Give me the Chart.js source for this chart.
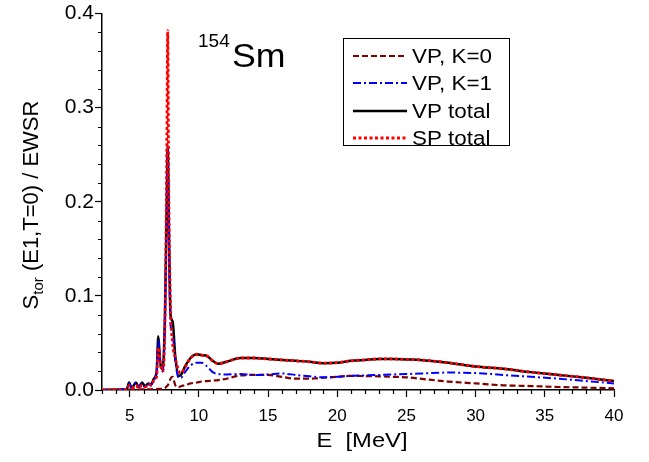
<!DOCTYPE html>
<html>
<head>
<meta charset="utf-8">
<script src="https://cdn.jsdelivr.net/npm/chart.js@4.4.1/dist/chart.umd.min.js"></script>
<style>
  body { margin: 0; background: #fff; }
  #wrap { width: 649px; height: 462px; }
</style>
</head>
<body>
<div id="wrap"><canvas id="torChart" width="649" height="462"></canvas></div>
<script>
// E grid [MeV], shared by all curves (denser around the 7.7 MeV peak)
const energy = [3.0, 4.5, 4.8, 4.95, 5.15, 5.45, 5.65, 5.9, 6.1, 6.35, 6.55, 6.75, 6.95, 7.07, 7.2, 7.38, 7.55, 7.68, 7.75, 7.82, 7.95, 8.1, 8.3, 8.55, 8.7, 9.0, 9.4, 9.85, 10.2, 10.6, 11.0, 11.4, 12.0, 13.0, 14.0, 15.0, 16.0, 17.0, 18.0, 19.0, 20.0, 21.0, 22.0, 23.0, 24.0, 25.0, 26.0, 28.0, 30.0, 32.0, 34.0, 36.0, 38.0, 40.0];

const vpK0 = [0, 0.0002, 0.0003, 0.0005, 0.0004, 0.0006, 0.0005, 0.0007, 0.0006, 0.0008, 0.0008, 0.001, 0.001, 0.0012, 0.0012, 0.0013, 0.002, 0.004, 0.005, 0.007, 0.012, 0.014, 0.005, 0.003, 0.004, 0.005, 0.007, 0.008, 0.009, 0.0095, 0.01, 0.0105, 0.012, 0.0155, 0.016, 0.016, 0.014, 0.012, 0.012, 0.013, 0.014, 0.015, 0.0148, 0.0145, 0.014, 0.0135, 0.012, 0.009, 0.007, 0.005, 0.0042, 0.0032, 0.0025, 0.0018];
const vpK1 = [0, 0.0005, 0.001, 0.008, 0.002, 0.008, 0.003, 0.007, 0.003, 0.006, 0.005, 0.011, 0.018, 0.052, 0.028, 0.02, 0.075, 0.2, 0.258, 0.18, 0.07, 0.06, 0.03, 0.013, 0.013, 0.019, 0.026, 0.029, 0.029, 0.025, 0.019, 0.017, 0.0165, 0.017, 0.016, 0.0165, 0.0175, 0.016, 0.0145, 0.0135, 0.014, 0.015, 0.0155, 0.016, 0.0165, 0.017, 0.0175, 0.0185, 0.018, 0.016, 0.014, 0.012, 0.0095, 0.007];
const vpTotal = [0, 0.0005, 0.001, 0.008, 0.002, 0.008, 0.003, 0.008, 0.004, 0.007, 0.006, 0.012, 0.02, 0.057, 0.03, 0.022, 0.08, 0.2, 0.26, 0.19, 0.08, 0.073, 0.035, 0.015, 0.016, 0.025, 0.034, 0.038, 0.037, 0.036, 0.031, 0.028, 0.03, 0.034, 0.034, 0.033, 0.032, 0.031, 0.03, 0.0285, 0.029, 0.031, 0.032, 0.033, 0.033, 0.0325, 0.032, 0.029, 0.025, 0.0225, 0.019, 0.016, 0.013, 0.0095];
const spTotal = [0, 0.0003, 0.0008, 0.005, 0.002, 0.005, 0.002, 0.005, 0.003, 0.006, 0.005, 0.01, 0.015, 0.045, 0.03, 0.02, 0.07, 0.25, 0.382, 0.22, 0.09, 0.05, 0.034, 0.02, 0.018, 0.024, 0.034, 0.038, 0.037, 0.036, 0.031, 0.028, 0.03, 0.034, 0.034, 0.033, 0.032, 0.031, 0.03, 0.0285, 0.029, 0.031, 0.032, 0.033, 0.033, 0.0325, 0.032, 0.029, 0.025, 0.0225, 0.019, 0.016, 0.013, 0.0095];

const seriesLabels = ['VP, K=0', 'VP, K=1', 'VP total', 'SP total'];
const xTicks = [5, 10, 15, 20, 25, 30, 35, 40];
const yTicks = [0, 0.1, 0.2, 0.3, 0.4];

const FONT = '"Liberation Sans", Arial, sans-serif';

function pts(arr) {
	return energy.map(function(e, i) { return { x: e, y: arr[i] }; });
}

// text a bit wider than the font, like the original plot program does
function wideText(ctx, txt, x, y, sx) {
	ctx.save();
	ctx.translate(x, y);
	ctx.scale(sx, 1);
	ctx.fillText(txt, 0, 0);
	ctx.restore();
}

// minor ticks, axis titles, nucleus label and the boxed legend
const extras = {
	id: 'extras',
	afterDraw: function(chart) {
		const ctx = chart.ctx;
		const xs = chart.scales.x, ys = chart.scales.y;
		const area = chart.chartArea;
		ctx.save();
		ctx.strokeStyle = '#000';
		ctx.lineWidth = 1.2;
		ctx.beginPath();
		for (let e = 3; e <= 40; e++) {
			if (e % 5 === 0) continue;
			const px = Math.round(xs.getPixelForValue(e)) + 0.5;
			ctx.moveTo(px, area.bottom);
			ctx.lineTo(px, area.bottom + 4);
		}
		for (let k = 1; k < 20; k++) {
			if (k % 5 === 0) continue;
			const py = Math.round(ys.getPixelForValue(k * 0.02)) + 0.5;
			ctx.moveTo(area.left, py);
			ctx.lineTo(area.left - 4, py);
		}
		ctx.stroke();

		ctx.fillStyle = '#000';
		ctx.textBaseline = 'alphabetic';
		// x title
		ctx.font = '21px ' + FONT;
		ctx.textAlign = 'left';
		const wE = ctx.measureText('E  [MeV]').width * 1.13;
		wideText(ctx, 'E  [MeV]', 362 - wE / 2, 447, 1.13);

		// y title with subscript
		ctx.save();
		ctx.translate(38, 205);
		ctx.rotate(-Math.PI / 2);
		const big = '22px ' + FONT, small = '15px ' + FONT;
		const rest = ' (E1,T=0) / EWSR';
		ctx.font = big; const wS = ctx.measureText('S').width; const wR = ctx.measureText(rest).width;
		ctx.font = small; const wT = ctx.measureText('tor').width;
		let x0 = -(wS + wT + wR) / 2;
		ctx.font = big; ctx.fillText('S', x0, 0);
		ctx.font = small; ctx.fillText('tor', x0 + wS, 5);
		ctx.font = big; ctx.fillText(rest, x0 + wS + wT, 0);
		ctx.restore();

		// nucleus label
		ctx.font = '19px ' + FONT;
		ctx.fillText('154', 198, 47);
		ctx.font = '34px ' + FONT;
		wideText(ctx, 'Sm', 232, 67, 1.05);

		// legend box
		ctx.lineWidth = 1;
		ctx.setLineDash([]);
		ctx.strokeRect(343.5, 38.5, 166, 107);
		const rowsY = [56, 83, 111, 138];
		chart.data.datasets.forEach(function(ds, i) {
			ctx.strokeStyle = ds.borderColor;
			ctx.lineWidth = ds.borderWidth;
			ctx.setLineDash(ds.borderDash || []);
			ctx.beginPath();
			ctx.moveTo(353, rowsY[i]);
			ctx.lineTo(407, rowsY[i]);
			ctx.stroke();
			ctx.setLineDash([]);
			ctx.fillStyle = '#000';
			ctx.font = '20px ' + FONT;
			ctx.textBaseline = 'middle';
			wideText(ctx, ds.label, 412, rowsY[i] + 1, 1.12);
		});
		ctx.restore();
	}
};

const chart = new Chart(document.getElementById('torChart').getContext('2d'), {
	type: 'line',
	data: {
		datasets: [
			{ label: seriesLabels[0], data: pts(vpK0), borderColor: '#800000', borderWidth: 2.2, borderDash: [6, 3], order: 2 },
			{ label: seriesLabels[1], data: pts(vpK1), borderColor: '#0000ff', borderWidth: 2, borderDash: [8, 3, 2, 3], order: 1 },
			{ label: seriesLabels[2], data: pts(vpTotal), borderColor: '#000000', borderWidth: 2.5, order: 3 },
			{ label: seriesLabels[3], data: pts(spTotal), borderColor: '#ff0000', borderWidth: 2.8, borderDash: [3, 2.5], order: 0 }
		]
	},
	options: {
		responsive: false,
		animation: false,
		devicePixelRatio: 1,
		layout: { padding: { top: 13, right: 35, left: 0, bottom: 0 } },
		elements: {
			point: { radius: 0 },
			line: { cubicInterpolationMode: 'monotone', fill: false }
		},
		plugins: { legend: { display: false }, tooltip: { enabled: false } },
		scales: {
			x: {
				type: 'linear',
				min: 3,
				max: 40,
				afterBuildTicks: function(s) { s.ticks = xTicks.map(function(v) { return { value: v }; }); },
				afterFit: function(s) { s.height = 72; },
				grid: { drawOnChartArea: false, drawTicks: true, tickLength: 7, tickColor: '#000', tickWidth: 1.2 },
				border: { color: '#000', width: 1.5 },
				ticks: { color: '#000', font: { family: FONT, size: 17 }, padding: 9, maxRotation: 0, autoSkip: false }
			},
			y: {
				min: 0,
				max: 0.4,
				afterBuildTicks: function(s) { s.ticks = yTicks.map(function(v) { return { value: v }; }); },
				afterFit: function(s) { s.width = 102; },
				grid: { drawOnChartArea: false, drawTicks: true, tickLength: 7, tickColor: '#000', tickWidth: 1.2 },
				border: { color: '#000', width: 1.5 },
				ticks: { color: '#000', font: { family: FONT, size: 21 }, padding: 1, callback: function(v) { return v.toFixed(1); } }
			}
		}
	},
	plugins: [extras]
});
</script>
</body>
</html>
